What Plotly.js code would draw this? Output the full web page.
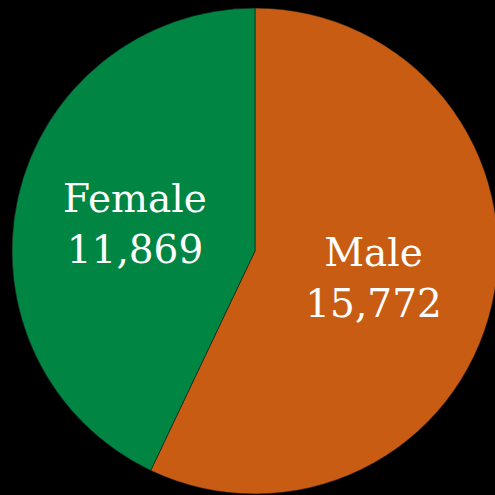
<!DOCTYPE html>
<html><head><meta charset="utf-8">
<script src="https://cdn.plot.ly/plotly-3.0.1.min.js"></script>
<style>html,body{margin:0;padding:0;background:#000;overflow:hidden;width:495px;height:495px}</style>
</head><body><div id="chart"></div>
<script>
const labels = ["Male", "Female"];
const values = [15772, 11869];
const colors = ["#C85C13", "#008542"];
const W = 510, H = 502;
Plotly.newPlot("chart", [{
  type: "pie",
  labels: labels,
  values: values,
  sort: false,
  direction: "clockwise",
  rotation: 0,
  marker: {colors: colors, line: {color: "#1a1a1a", width: 0.6}},
  texttemplate: "%{label}<br>%{value:,}",
  textposition: "inside",
  insidetextorientation: "horizontal",
  textfont: {family: "DejaVu Serif", size: 39, color: "#ffffff"},
  hoverinfo: "none",
  domain: {x: [12/W, 498/W], y: [8/H, 494/H]}
}], {
  width: W, height: H,
  margin: {l: 0, r: 0, t: 0, b: 0, pad: 0},
  paper_bgcolor: "#000000",
  plot_bgcolor: "#000000",
  showlegend: false
}, {displayModeBar: false, staticPlot: true});
</script></body></html>
